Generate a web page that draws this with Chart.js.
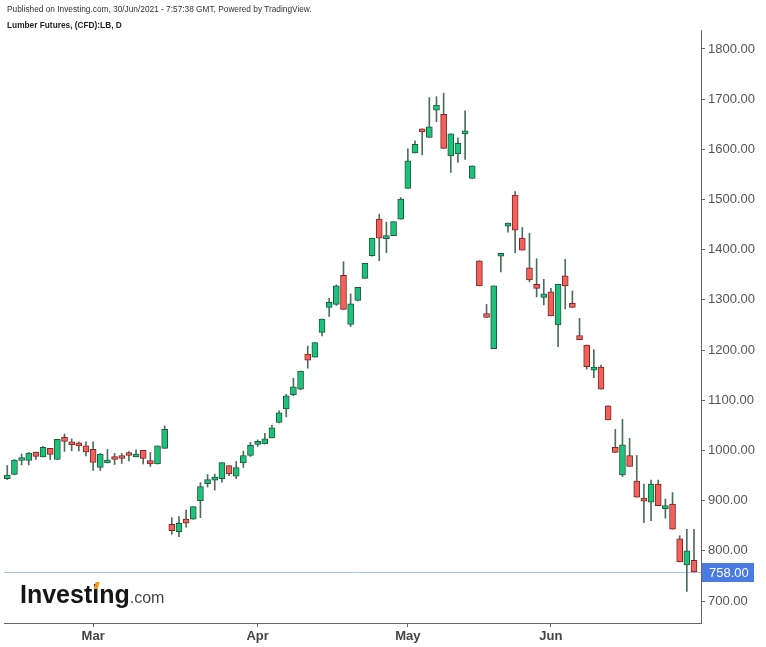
<!DOCTYPE html>
<html>
<head>
<meta charset="utf-8">
<title>Lumber Futures</title>
<script src="https://cdn.jsdelivr.net/npm/chart.js@4.4.0/dist/chart.umd.min.js"></script>
<style>
  html, body { margin: 0; padding: 0; background: #fff; }
  #wrap { position: relative; width: 766px; height: 647px; }
  #lumber-chart { position: absolute; left: 0; top: 0; }
  .head { position: absolute; left: 7px; font-family: "Liberation Sans", Arial, sans-serif; font-size: 8.3px; color: #333; white-space: nowrap; }
  #head1 { top: 4px; }
  #head2 { top: 20px; font-weight: bold; color: #222; }
</style>
</head>
<body>
<div id="wrap">
  <canvas id="lumber-chart" width="766" height="647"></canvas>
  <div class="head" id="head1">Published on Investing.com, 30/Jun/2021 - 7:57:38 GMT, Powered by TradingView.</div>
  <div class="head" id="head2">Lumber Futures, (CFD):LB, D</div>
</div>
<script>
// trading days shown on the chart
const dates = [
  '2021-02-10', '2021-02-11', '2021-02-12', '2021-02-16', '2021-02-17', '2021-02-18', '2021-02-19',
  '2021-02-22', '2021-02-23', '2021-02-24', '2021-02-25', '2021-02-26',
  '2021-03-01', '2021-03-02', '2021-03-03', '2021-03-04', '2021-03-05',
  '2021-03-08', '2021-03-09', '2021-03-10', '2021-03-11', '2021-03-12',
  '2021-03-15', '2021-03-16', '2021-03-17', '2021-03-18', '2021-03-19',
  '2021-03-22', '2021-03-23', '2021-03-24', '2021-03-25', '2021-03-26',
  '2021-03-29', '2021-03-30', '2021-03-31', '2021-04-01',
  '2021-04-05', '2021-04-06', '2021-04-07', '2021-04-08', '2021-04-09',
  '2021-04-12', '2021-04-13', '2021-04-14', '2021-04-15', '2021-04-16',
  '2021-04-19', '2021-04-20', '2021-04-21', '2021-04-22', '2021-04-23',
  '2021-04-26', '2021-04-27', '2021-04-28', '2021-04-29', '2021-04-30',
  '2021-05-03', '2021-05-04', '2021-05-05', '2021-05-06', '2021-05-07',
  '2021-05-10', '2021-05-11', '2021-05-12', '2021-05-13', '2021-05-14',
  '2021-05-17', '2021-05-18', '2021-05-19', '2021-05-20', '2021-05-21',
  '2021-05-24', '2021-05-25', '2021-05-26', '2021-05-27', '2021-05-28',
  '2021-06-01', '2021-06-02', '2021-06-03', '2021-06-04',
  '2021-06-07', '2021-06-08', '2021-06-09', '2021-06-10', '2021-06-11',
  '2021-06-14', '2021-06-15', '2021-06-16', '2021-06-17', '2021-06-18',
  '2021-06-21', '2021-06-22', '2021-06-23', '2021-06-24', '2021-06-25',
  '2021-06-28', '2021-06-29'
];

const opens = [
  944, 952, 980, 980, 997, 987, 1004, 982, 1026, 1016, 1012, 1009,
  1002, 966, 975, 984, 990, 994, 987, 1000, 980, 973, 1004, 853,
  838, 863, 863, 900, 934, 941, 944, 970, 949, 975, 990, 1012,
  1013, 1025, 1056, 1083, 1111, 1122, 1192, 1186, 1235, 1285, 1291, 1349,
  1251, 1299, 1343, 1388, 1461, 1422, 1428, 1461, 1522, 1593, 1641, 1624,
  1678, 1670, 1587, 1591, 1631, 1542, 1378, 1273, 1203, 1387, 1447, 1509,
  1423, 1364, 1331, 1305, 1316, 1250, 1348, 1293, 1229, 1210, 1160, 1166,
  1089, 1006, 951, 990, 939, 901, 897, 933, 884, 893, 824, 772, 781
];
const highs = [
  970, 982, 993, 996, 997, 1008, 1004, 1022, 1033, 1023, 1017, 1017,
  1017, 994, 1002, 994, 994, 998, 1001, 1000, 996, 1009, 1049, 866,
  868, 881, 888, 936, 952, 953, 976, 970, 978, 999, 1016, 1021,
  1034, 1050, 1079, 1112, 1144, 1158, 1208, 1215, 1262, 1303, 1330, 1376,
  1312, 1325, 1373, 1423, 1471, 1455, 1456, 1504, 1601, 1617, 1641, 1703,
  1705, 1712, 1631, 1623, 1677, 1567, 1378, 1291, 1328, 1391, 1453, 1516,
  1444, 1433, 1382, 1341, 1323, 1331, 1381, 1318, 1263, 1210, 1201, 1170,
  1089, 1042, 1062, 1024, 990, 933, 941, 941, 903, 916, 830, 843, 843
];
const lows = [
  942, 951, 971, 971, 982, 987, 982, 982, 998, 999, 999, 989,
  960, 960, 975, 972, 974, 979, 987, 973, 968, 973, 1004, 833,
  828, 847, 863, 866, 927, 921, 937, 950, 944, 966, 988, 1008,
  1013, 1025, 1055, 1067, 1109, 1121, 1164, 1186, 1228, 1267, 1289, 1281,
  1247, 1298, 1343, 1387, 1378, 1394, 1428, 1461, 1522, 1593, 1589, 1624,
  1655, 1602, 1554, 1574, 1580, 1542, 1328, 1265, 1203, 1356, 1435, 1394,
  1399, 1336, 1306, 1290, 1268, 1207, 1282, 1285, 1221, 1162, 1145, 1122,
  1061, 996, 948, 968, 907, 856, 860, 890, 865, 843, 778, 719, 758
];
const closes = [
  951, 981, 983, 995, 988, 1006, 992, 1022, 1018, 1011, 1009, 997,
  976, 993, 980, 982, 984, 990, 992, 984, 973, 1009, 1042, 840,
  855, 855, 888, 928, 942, 946, 976, 953, 966, 990, 1010, 1014,
  1023, 1045, 1075, 1109, 1127, 1158, 1180, 1215, 1262, 1295, 1328, 1281,
  1292, 1325, 1373, 1423, 1423, 1424, 1456, 1501, 1577, 1610, 1635, 1645,
  1688, 1602, 1631, 1612, 1633, 1567, 1328, 1265, 1328, 1391, 1453, 1439,
  1399, 1340, 1323, 1312, 1268, 1331, 1328, 1285, 1221, 1167, 1166, 1122,
  1061, 996, 1011, 968, 907, 899, 933, 890, 887, 843, 778, 800, 758
];

const yTicks = [700, 800, 900, 1000, 1100, 1200, 1300, 1400, 1500, 1600, 1700, 1800];
const monthNames = { '03': 'Mar', '04': 'Apr', '05': 'May', '06': 'Jun' };

const upFill = '#1cc27c';
const upLine = '#1d5a3a';
const downFill = '#f2625b';
const downLine = '#7c2626';
const wickColor = '#4d6e5b';

// first trading day of each month gets a tick
const monthStarts = dates
  .map((d, i) => i)
  .filter(i => i > 0 && dates[i].slice(5, 7) !== dates[i - 1].slice(5, 7));

const isUp = opens.map((o, i) => closes[i] >= o);

const lastPricePlugin = {
  id: 'lastPrice',
  beforeDatasetsDraw(chart) {
    const { ctx, chartArea, scales } = chart;
    const y = Math.round(scales.y.getPixelForValue(closes[closes.length - 1])) + 0.5;
    ctx.save();
    ctx.strokeStyle = '#a9c3f1';
    ctx.lineWidth = 1;
    ctx.beginPath();
    ctx.moveTo(chartArea.left, y);
    ctx.lineTo(chartArea.right, y);
    ctx.stroke();
    ctx.restore();
  },
  afterDraw(chart) {
    const { ctx, chartArea, scales } = chart;
    const last = closes[closes.length - 1];
    const y = scales.y.getPixelForValue(last);
    ctx.save();
    ctx.fillStyle = '#4a7be3';
    ctx.fillRect(chartArea.right + 1, Math.round(y) - 9, 52, 19);
    ctx.fillStyle = '#fff';
    ctx.font = '13px "Liberation Sans", Arial, sans-serif';
    ctx.textBaseline = 'middle';
    ctx.fillText(last.toFixed(2), chartArea.right + 8, Math.round(y) + 1);

    // investing.com watermark
    ctx.textBaseline = 'alphabetic';
    ctx.fillStyle = '#161616';
    ctx.font = 'bold 25px "Liberation Sans", Arial, sans-serif';
    const word = 'Investing';
    ctx.fillText(word, 20, 603);
    const w = ctx.measureText(word).width;
    const pre = ctx.measureText('Invest').width;
    const iw = ctx.measureText('i').width;
    ctx.fillStyle = '#444';
    ctx.font = '16px "Liberation Sans", Arial, sans-serif';
    ctx.fillText('.com', 20 + w, 603);
    ctx.fillStyle = '#f39a1e';
    const cx = 20 + pre + iw / 2;
    ctx.beginPath();
    ctx.moveTo(cx - 2, 589);
    ctx.lineTo(cx + 2, 589);
    ctx.lineTo(cx + 4, 582);
    ctx.lineTo(cx, 582);
    ctx.closePath();
    ctx.fill();
    ctx.restore();
  }
};

Chart.defaults.font.family = '"Liberation Sans", Arial, sans-serif';

new Chart(document.getElementById('lumber-chart'), {
  type: 'bar',
  data: {
    datasets: [
      {
        label: 'body',
        order: 0,
        data: opens.map((o, i) => ({ x: i, y: [o, closes[i]] })),
        backgroundColor: isUp.map(u => (u ? upFill : downFill)),
        borderColor: isUp.map(u => (u ? upLine : downLine)),
        borderWidth: 1,
        borderSkipped: false,
        barThickness: 6,
        minBarLength: 3,
        grouped: false
      },
      {
        label: 'wick',
        order: 1,
        data: lows.map((l, i) => ({ x: i, y: [l, highs[i]] })),
        backgroundColor: wickColor,
        borderWidth: 0,
        barThickness: 1,
        grouped: false
      }
    ]
  },
  options: {
    responsive: false,
    animation: false,
    devicePixelRatio: 1,
    layout: { padding: { top: 30, left: 4, right: 0, bottom: 0 } },
    plugins: {
      legend: { display: false },
      tooltip: { enabled: false },
      title: { display: false }
    },
    scales: {
      x: {
        type: 'linear',
        offset: false,
        min: -0.46,
        max: 96.98,
        afterBuildTicks: scale => {
          scale.ticks = monthStarts.map(v => ({ value: v }));
        },
        afterFit: scale => {
          scale.height = 24;
        },
        ticks: {
          autoSkip: false,
          maxRotation: 0,
          padding: 2,
          color: '#444',
          font: { size: 13, weight: 'bold' },
          callback: v => monthNames[dates[v].slice(5, 7)]
        },
        grid: { offset: false, drawOnChartArea: false, drawTicks: true, tickLength: 4, color: '#666' },
        border: { display: true, color: '#666', width: 1 }
      },
      y: {
        position: 'right',
        min: 656.16,
        max: 1837.86,
        afterBuildTicks: scale => {
          scale.ticks = yTicks.map(v => ({ value: v }));
        },
        afterFit: scale => {
          scale.width = 65;
        },
        ticks: {
          padding: 3,
          color: '#555',
          font: { size: 13 },
          callback: v => v.toFixed(2)
        },
        grid: { drawOnChartArea: false, drawTicks: true, tickLength: 4, color: '#666' },
        border: { display: true, color: '#666', width: 1 }
      }
    }
  },
  plugins: [lastPricePlugin]
});
</script>
</body>
</html>
